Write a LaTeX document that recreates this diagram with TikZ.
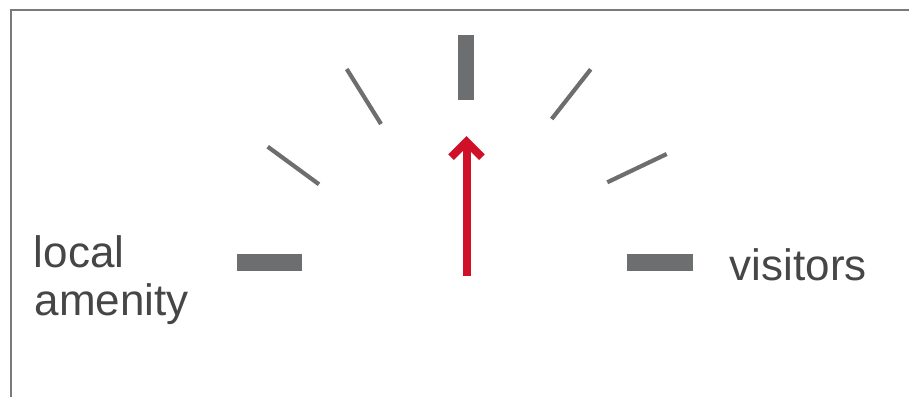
\documentclass[tikz,border=0pt]{standalone}
\usepackage{fontspec}
\setmainfont{Liberation Sans}
\definecolor{framegrey}{RGB}{122,122,122}
\definecolor{tickgrey}{RGB}{109,110,112}
\definecolor{textgrey}{RGB}{70,70,70}
\definecolor{arrowred}{RGB}{208,16,40}
\tikzset{
  frameline/.style={draw=framegrey, line width=2.5pt},
  bigtick/.style={fill=tickgrey, draw=none},
  smalltick/.style={draw=tickgrey, line width=4.2pt, line cap=butt},
  redline/.style={draw=arrowred, line width=8pt, line cap=butt, line join=miter},
  label/.style={text=textgrey, inner sep=0pt, font=\fontsize{44}{47}\selectfont}
}
\begin{document}
\begin{tikzpicture}[x=1pt,y=-1pt]
\useasboundingbox (0,0) rectangle (909,397);
% frame
\coordinate (fr1) at (10.8,397);
\coordinate (fr2) at (10.8,10);
\coordinate (fr3) at (909,10);
\draw[frameline] (fr1) -- (fr2) -- (fr3);
% big ticks
\fill[bigtick] (458,35) rectangle (474,100);
\fill[bigtick] (237,254) rectangle (302,271);
\fill[bigtick] (627,254) rectangle (693,271);
% small ticks
\draw[smalltick] (267.7,146.7) -- (319,184.3);
\draw[smalltick] (346.7,69) -- (381,124);
\draw[smalltick] (590.7,69.3) -- (551.7,119);
\draw[smalltick] (666.7,154) -- (607.3,182.3);
% arrow
\coordinate (abase) at (466.5,276);
\coordinate (atip) at (466.5,141.7);
\coordinate (awl) at (451,157.2);
\coordinate (awr) at (482,157.2);
\draw[redline] (abase) -- (466.5,142.5);
\draw[redline] (awl) -- (atip) -- (awr);
% labels
\node[label, anchor=base west] (local) at (33.7,267.7) {local};
\node[label, anchor=base west] (amenity) at (34.4,315) {amenity};
\node[label, anchor=base west] (visitors) at (729.7,280) {visitors};
\end{tikzpicture}
\end{document}
